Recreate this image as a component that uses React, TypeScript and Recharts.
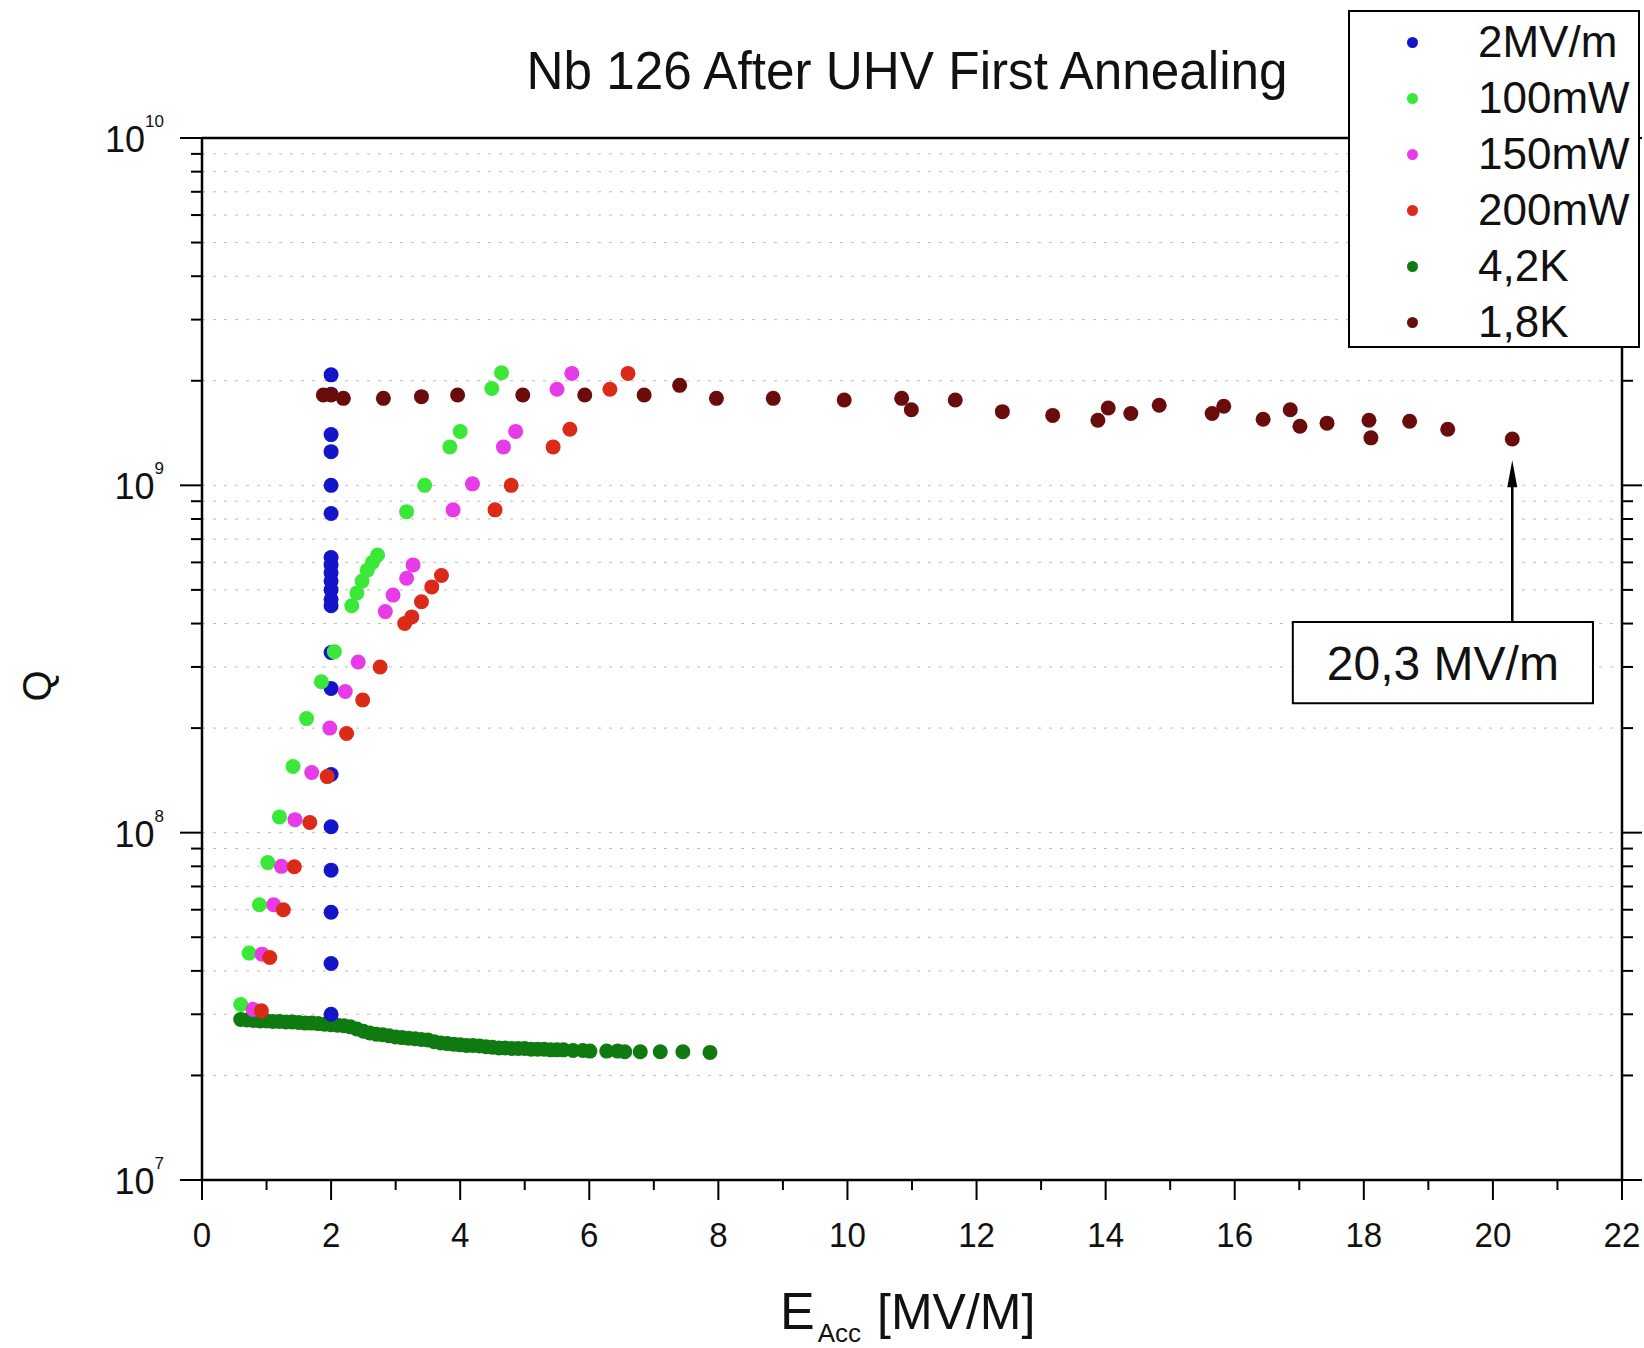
import React from 'react';
import {
  ScatterChart,
  Scatter,
  XAxis,
  YAxis,
  CartesianGrid,
  Legend,
  ReferenceArea,
  ReferenceLine,
} from 'recharts';

const FONT = '"Liberation Sans", Arial, Helvetica, sans-serif';

// [E_acc (MV/m), Q] readings, one list per run
const run2MV: [number, number][] = [
  [2, 2.08e9], [2, 1.83e9], [2, 1.4e9], [2, 1.25e9], [2, 1.0e9], [2, 8.3e8],
  [2, 6.2e8], [2, 5.9e8], [2, 5.6e8], [2, 5.3e8], [2, 5.0e8], [2, 4.7e8],
  [2, 4.5e8], [2, 3.3e8], [2, 2.6e8], [2, 1.47e8], [2, 1.04e8], [2, 7.8e7],
  [2, 5.9e7], [2, 4.2e7], [2, 3.0e7],
];

const run100mW: [number, number][] = [
  [0.6, 3.2e7], [0.73, 4.5e7], [0.89, 6.2e7], [1.02, 8.2e7], [1.2, 1.11e8],
  [1.41, 1.55e8], [1.62, 2.13e8], [1.85, 2.72e8], [2.05, 3.32e8], [2.32, 4.5e8],
  [2.4, 4.9e8], [2.48, 5.3e8], [2.56, 5.7e8], [2.64, 6.0e8], [2.72, 6.3e8],
  [3.17, 8.4e8], [3.45, 1.0e9], [3.84, 1.29e9], [4.0, 1.43e9], [4.49, 1.9e9],
  [4.64, 2.11e9],
];

const run150mW: [number, number][] = [
  [0.79, 3.1e7], [0.93, 4.47e7], [1.11, 6.2e7], [1.23, 8.0e7], [1.44, 1.09e8],
  [1.7, 1.49e8], [1.98, 2.0e8], [2.22, 2.55e8], [2.42, 3.1e8], [2.84, 4.33e8],
  [2.96, 4.83e8], [3.17, 5.4e8], [3.27, 5.9e8], [3.89, 8.5e8], [4.19, 1.01e9],
  [4.67, 1.29e9], [4.86, 1.43e9], [5.5, 1.89e9], [5.73, 2.1e9],
];

const run200mW: [number, number][] = [
  [0.92, 3.07e7], [1.05, 4.37e7], [1.26, 6.0e7], [1.43, 7.98e7], [1.67, 1.07e8],
  [1.94, 1.45e8], [2.24, 1.93e8], [2.49, 2.41e8], [2.76, 3.0e8], [3.14, 4.0e8],
  [3.25, 4.18e8], [3.4, 4.62e8], [3.56, 5.1e8], [3.71, 5.5e8], [4.54, 8.5e8],
  [4.79, 1.0e9], [5.44, 1.29e9], [5.7, 1.45e9], [6.32, 1.89e9], [6.6, 2.1e9],
];

const run42K: [number, number][] = [
  [0.6, 2.9e7], [0.7, 2.89e7], [0.8, 2.88e7], [0.9, 2.87e7], [1.0, 2.87e7],
  [1.1, 2.86e7], [1.2, 2.86e7], [1.3, 2.85e7], [1.4, 2.85e7], [1.5, 2.84e7],
  [1.6, 2.83e7], [1.7, 2.83e7], [1.8, 2.82e7], [1.9, 2.81e7], [2.0, 2.8e7],
  [2.1, 2.79e7], [2.2, 2.78e7], [2.3, 2.76e7], [2.4, 2.72e7], [2.5, 2.68e7],
  [2.6, 2.65e7], [2.7, 2.63e7], [2.8, 2.62e7], [2.9, 2.6e7], [3.0, 2.58e7],
  [3.1, 2.57e7], [3.2, 2.56e7], [3.3, 2.55e7], [3.4, 2.54e7], [3.5, 2.53e7],
  [3.6, 2.5e7], [3.7, 2.48e7], [3.8, 2.47e7], [3.9, 2.46e7], [4.0, 2.45e7],
  [4.1, 2.44e7], [4.2, 2.44e7], [4.3, 2.43e7], [4.4, 2.42e7], [4.5, 2.41e7],
  [4.6, 2.4e7], [4.7, 2.4e7], [4.8, 2.39e7], [4.9, 2.39e7], [5.0, 2.39e7],
  [5.1, 2.38e7], [5.2, 2.38e7], [5.3, 2.38e7], [5.4, 2.37e7], [5.5, 2.37e7],
  [5.6, 2.37e7], [5.75, 2.36e7], [5.9, 2.36e7], [6.01, 2.35e7], [6.27, 2.35e7],
  [6.44, 2.35e7], [6.55, 2.34e7], [6.79, 2.34e7], [7.1, 2.34e7], [7.45, 2.34e7],
  [7.87, 2.33e7],
];

const run18K: [number, number][] = [
  [1.88, 1.82e9], [2.0, 1.82e9], [2.19, 1.78e9], [2.81, 1.78e9], [3.4, 1.8e9],
  [3.96, 1.82e9], [4.97, 1.82e9], [5.93, 1.82e9], [6.85, 1.82e9], [7.4, 1.94e9],
  [7.97, 1.78e9], [8.85, 1.78e9], [9.95, 1.76e9], [10.84, 1.78e9], [10.99, 1.65e9],
  [11.67, 1.76e9], [12.4, 1.63e9], [13.18, 1.59e9], [13.88, 1.54e9], [14.04, 1.67e9],
  [14.39, 1.61e9], [14.83, 1.7e9], [15.65, 1.61e9], [15.83, 1.69e9], [16.44, 1.55e9],
  [16.86, 1.65e9], [17.01, 1.48e9], [17.43, 1.51e9], [18.08, 1.54e9], [18.11, 1.37e9],
  [18.71, 1.53e9], [19.3, 1.45e9], [20.3, 1.36e9],
];

const xTicks = [0, 1, 2, 3, 4, 5, 6, 7, 8, 9, 10, 11, 12, 13, 14, 15, 16, 17, 18, 19, 20, 21, 22];
const qTicks = [
  1e7, 2e7, 3e7, 4e7, 5e7, 6e7, 7e7, 8e7, 9e7,
  1e8, 2e8, 3e8, 4e8, 5e8, 6e8, 7e8, 8e8, 9e8,
  1e9, 2e9, 3e9, 4e9, 5e9, 6e9, 7e9, 8e9, 9e9,
  1e10,
];

const toPoints = (rows: [number, number][]) => rows.map(([x, q]) => ({ x, q }));

// drawing order (4,2K underneath, 1,8K on top)
const series = [
  { name: '4,2K', rows: run42K, color: '#0f7a10' },
  { name: '2MV/m', rows: run2MV, color: '#1414c8' },
  { name: '100mW', rows: run100mW, color: '#3ae83a' },
  { name: '150mW', rows: run150mW, color: '#e83be8' },
  { name: '200mW', rows: run200mW, color: '#dc2a18' },
  { name: '1,8K', rows: run18K, color: '#6a0c0c' },
];
const legendOrder = ['2MV/m', '100mW', '150mW', '200mW', '4,2K', '1,8K'];

const isDecade = (v: number) => Math.abs(Math.log10(v) - Math.round(Math.log10(v))) < 1e-9;

const BottomTick = (props: any) => {
  const { x, y, payload } = props;
  const v = payload.value;
  const major = v % 2 === 0;
  return (
    <g>
      <line x1={x} y1={y} x2={x} y2={y + (major ? 20 : 10)} stroke="#000" strokeWidth={2} />
      {major && (
        <text
          transform={`translate(${x},${y + 67}) scale(0.92,1)`}
          textAnchor="middle"
          fontSize={36}
          fontFamily={FONT}
          fill="#111"
        >
          {v}
        </text>
      )}
    </g>
  );
};

const TopTick = (props: any) => {
  const { x, y, payload } = props;
  const major = payload.value % 2 === 0;
  return <line x1={x} y1={y} x2={x} y2={y - (major ? 20 : 10)} stroke="#000" strokeWidth={2} />;
};

const LeftTick = (props: any) => {
  const { x, y, payload } = props;
  const v = payload.value;
  const major = isDecade(v);
  return (
    <g>
      <line x1={x - (major ? 22 : 11)} y1={y} x2={x} y2={y} stroke="#000" strokeWidth={2} />
      {major && (
        <text x={x - 38} y={y + 14} textAnchor="end" fontSize={36} fontFamily={FONT} fill="#111">
          10
          <tspan fontSize={17} dy={-25}>{Math.round(Math.log10(v))}</tspan>
        </text>
      )}
    </g>
  );
};

const RightTick = (props: any) => {
  const { x, y, payload } = props;
  const major = isDecade(payload.value);
  return <line x1={x} y1={y} x2={x + (major ? 20 : 11)} y2={y} stroke="#000" strokeWidth={2} />;
};

const TitleLabel = (props: any) => {
  const vb = props.viewBox || { x: 202, y: 137, width: 1420, height: 1 };
  const cx = vb.x + vb.width / 2 - 5;
  return (
    <text
      transform={`translate(${cx},${vb.y - 48}) scale(0.95,1)`}
      textAnchor="middle"
      fontSize={54}
      fontFamily={FONT}
      fill="#111"
    >
      Nb 126 After UHV First Annealing
    </text>
  );
};

const XTitle = (props: any) => {
  const vb = props.viewBox || { x: 202, y: 1180, width: 1420, height: 100 };
  const cx = vb.x + vb.width / 2;
  return (
    <text x={cx - 132} y={vb.y + 149} fontSize={52} fontFamily={FONT} fill="#111">
      E
      <tspan fontSize={26} dy={13} dx={3}>Acc</tspan>
      <tspan fontSize={50} dy={-13} dx={16}>[MV/M]</tspan>
    </text>
  );
};

const YTitle = (props: any) => {
  const vb = props.viewBox || { x: 52, y: 138, width: 150, height: 1042 };
  const cx = vb.x - 15;
  const cy = vb.y + vb.height / 2 + 27;
  return (
    <text
      transform={`translate(${cx},${cy}) rotate(-90)`}
      textAnchor="middle"
      dominantBaseline="central"
      fontSize={40}
      fontFamily={FONT}
      fill="#111"
    >
      Q
    </text>
  );
};

const ArrowShape = (p: any) => {
  const top = Math.min(p.y1, p.y2);
  const bottom = Math.max(p.y1, p.y2);
  const x = p.x1;
  return (
    <g>
      <line x1={x} y1={bottom} x2={x} y2={top + 20} stroke="#000" strokeWidth={2.5} />
      <polygon points={`${x},${top} ${x - 5},${top + 27} ${x + 5},${top + 27}`} fill="#000" />
    </g>
  );
};

const LegendBox = () => (
  <div
    style={{
      boxSizing: 'border-box',
      width: 292,
      height: 338,
      border: '2px solid #000',
      background: '#fff',
      paddingTop: 2,
      fontFamily: FONT,
    }}
  >
    {legendOrder.map((name) => {
      const s = series.find((d) => d.name === name)!;
      return (
        <div key={name} style={{ display: 'flex', alignItems: 'center', height: 56 }}>
          <span
            style={{
              display: 'inline-block',
              width: 11,
              height: 11,
              borderRadius: '50%',
              background: s.color,
              marginLeft: 57,
              marginRight: 60,
            }}
          />
          <span style={{ fontSize: 44, lineHeight: '56px', color: '#111' }}>{name}</span>
        </div>
      );
    })}
  </div>
);

export default function App() {
  return (
    <div style={{ position: 'absolute', left: 0, top: 0, width: 1644, height: 1348, background: '#fff' }}>
      <ScatterChart width={1644} height={1348} margin={{ top: 137, right: 0, bottom: 68, left: 52 }}>
        <CartesianGrid vertical={false} stroke="#bdbdbd" strokeDasharray="3 8" />
        <XAxis
          type="number"
          dataKey="x"
          domain={[0, 22]}
          ticks={xTicks}
          interval={0}
          allowDataOverflow
          height={100}
          tickSize={0}
          tickMargin={0}
          tickLine={false}
          tick={<BottomTick />}
          axisLine={{ stroke: '#000', strokeWidth: 2.5 }}
          label={XTitle}
        />
        <XAxis
          xAxisId="top"
          orientation="top"
          type="number"
          domain={[0, 22]}
          ticks={xTicks}
          interval={0}
          allowDataOverflow
          height={1}
          tickSize={0}
          tickMargin={0}
          tickLine={false}
          tick={<TopTick />}
          axisLine={{ stroke: '#000', strokeWidth: 2.5 }}
          label={TitleLabel}
        />
        <YAxis
          type="number"
          dataKey="q"
          scale="log"
          domain={[1e7, 1e10]}
          ticks={qTicks}
          interval={0}
          allowDataOverflow
          width={150}
          tickSize={0}
          tickMargin={0}
          tickLine={false}
          tick={<LeftTick />}
          axisLine={{ stroke: '#000', strokeWidth: 2.5 }}
          label={YTitle}
        />
        <YAxis
          yAxisId="right"
          orientation="right"
          type="number"
          scale="log"
          domain={[1e7, 1e10]}
          ticks={qTicks}
          interval={0}
          allowDataOverflow
          width={22}
          tickSize={0}
          tickMargin={0}
          tickLine={false}
          tick={<RightTick />}
          axisLine={{ stroke: '#000', strokeWidth: 2.5 }}
        />
        <ReferenceArea
          x1={16.9}
          x2={21.55}
          y1={2.36e8}
          y2={4.04e8}
          stroke="#000"
          strokeWidth={2}
          fill="#fff"
          fillOpacity={1}
          ifOverflow="visible"
          label={{ value: '20,3 MV/m', position: 'center', fontSize: 48, fill: '#111', fontFamily: FONT }}
        />
        <ReferenceLine
          segment={[
            { x: 20.3, y: 4.04e8 },
            { x: 20.3, y: 1.18e9 },
          ]}
          ifOverflow="visible"
          shape={ArrowShape}
        />
        {series.map((s) => (
          <Scatter
            key={s.name}
            name={s.name}
            data={toPoints(s.rows)}
            fill={s.color}
            isAnimationActive={false}
            shape={(p: any) => <circle cx={p.cx} cy={p.cy} r={7.5} fill={s.color} />}
          />
        ))}
        <Legend
          layout="vertical"
          align="center"
          verticalAlign="middle"
          content={<LegendBox />}
          wrapperStyle={{ left: 1348, top: 10, width: 292, height: 338 }}
        />
      </ScatterChart>
    </div>
  );
}
